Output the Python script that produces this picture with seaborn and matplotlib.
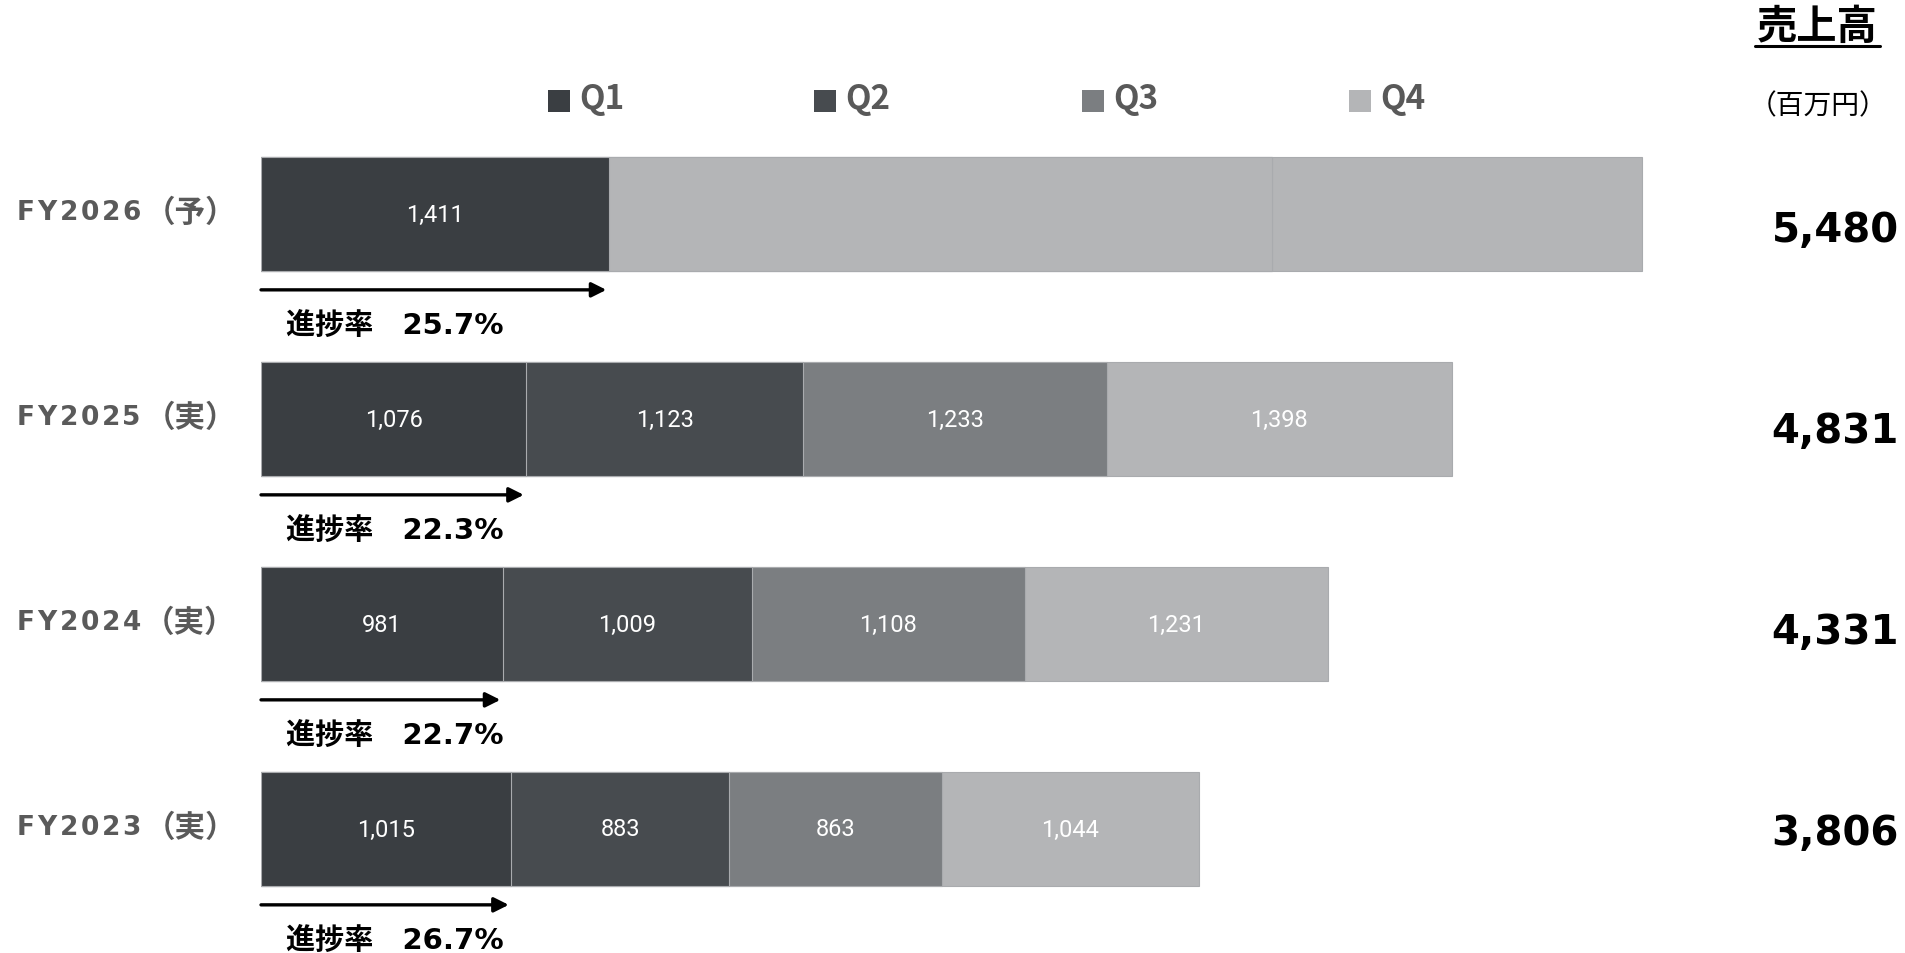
import matplotlib
matplotlib.use("Agg")
import matplotlib.pyplot as plt
from matplotlib.patches import Rectangle
from matplotlib.lines import Line2D
import seaborn as sns
import pandas as pd
import numpy as np

# ---------------- data ----------------
years = ["FY2026（予）", "FY2025（実）", "FY2024（実）", "FY2023（実）"]
# FY2026: Q1 actual, remaining forecast drawn as light segments
q1 = [1411, 1076, 981, 1015]
q2 = [2690, 1123, 1009, 883]
q3 = [0, 1233, 1108, 863]
q4 = [1501, 1398, 1231, 1044]
show_labels = [[True, False, False, False],
               [True, True, True, True],
               [True, True, True, True],
               [True, True, True, True]]
totals = ["5,480", "4,831", "4,331", "3,806"]
progress = ["25.7%", "22.3%", "22.7%", "26.7%"]
legend_labels = ["Q1", "Q2", "Q3", "Q4"]

c_q1, c_q2, c_q3, c_q4 = "#3a3e42", "#474b4f", "#7b7e81", "#b4b5b7"
layer_colors = [
    [c_q1, c_q1, c_q1, c_q1],
    [c_q4, c_q2, c_q2, c_q2],
    [c_q4, c_q3, c_q3, c_q3],
    [c_q4, c_q4, c_q4, c_q4],
]

sns.set_theme(style="white")
plt.rcParams["font.family"] = ["DejaVu Sans", "Noto Sans CJK JP"]

W, H = 1906, 954
fig = plt.figure(figsize=(W / 100, H / 100), dpi=100)
fig.patch.set_facecolor("white")

px_per_unit = 0.2465
ax_left_px, ax_right_px = 261, 1700
ax_top_px, ax_bot_px = 112.5, 932.5
ax = fig.add_axes([ax_left_px / W, 1 - ax_bot_px / H,
                   (ax_right_px - ax_left_px) / W, (ax_bot_px - ax_top_px) / H])

segs = np.array([q1, q2, q3, q4], dtype=float)
cums = np.cumsum(segs, axis=0)

# draw cumulative layers from outermost to innermost
for k in range(3, -1, -1):
    df = pd.DataFrame({"year": years, "value": cums[k]})
    sns.barplot(data=df, x="value", y="year", hue="year", hue_order=years,
                order=years, palette=layer_colors[k], legend=False, orient="h",
                width=0.556, ax=ax, edgecolor="#a9abae", linewidth=0.8,
                saturation=1, errorbar=None)

ax.set_xlim(0, (ax_right_px - ax_left_px) / px_per_unit)
ax.set_ylim(3.5, -0.5)
ax.set_xlabel("")
ax.set_ylabel("")
ax.set_xticks([])
ax.set_yticks([])
for s in ax.spines.values():
    s.set_visible(False)
ax.patch.set_alpha(0)

# segment value labels
for i in range(4):
    starts = np.concatenate([[0], cums[:-1, i]])
    for k in range(4):
        if show_labels[i][k] and segs[k, i] > 0:
            ax.text(starts[k] + segs[k, i] / 2, i, f"{int(segs[k, i]):,}",
                    ha="center", va="center", color="white", fontsize=17,
                    family=["Roboto", "DejaVu Sans"])

# arrows and progress texts
for i in range(4):
    ax.annotate("", xy=(q1[i] - 10, i + 0.37), xytext=(0, i + 0.37),
                arrowprops=dict(arrowstyle="-|>", color="black", lw=2.4,
                                mutation_scale=22, shrinkA=0, shrinkB=0),
                annotation_clip=False)
    ax.annotate("進捗率\u3000" + progress[i], xy=(0, i + 0.54),
                xytext=(25, 0), textcoords="offset pixels",
                ha="left", va="center", fontsize=21, fontweight="bold",
                color="black", family=["DejaVu Sans", "Noto Sans CJK JP"],
                annotation_clip=False)

# year labels (left) with letter spacing on the latin part
renderer = fig.canvas.get_renderer()
trans_left = matplotlib.transforms.blended_transform_factory(fig.transFigure, ax.transData)
spacing_px = 2.6
for i in range(4):
    latin, rest = years[i][:6], years[i][6:]
    xoff = 0.0
    for ch in list(latin):
        t = ax.annotate(ch, xy=(17 / W, i - 0.012), xycoords=trans_left,
                        xytext=(xoff, 0), textcoords="offset pixels",
                        ha="left", va="center", fontsize=19, fontweight="bold",
                        color="#5a5a5a", family=["DejaVu Sans"],
                        annotation_clip=False)
        xoff += t.get_window_extent(renderer).width + spacing_px
    ax.annotate(rest, xy=(17 / W, i - 0.012), xycoords=trans_left,
                xytext=(xoff + 1, 0), textcoords="offset pixels",
                ha="left", va="center", fontsize=22, fontweight="bold",
                color="#5a5a5a", family=["Noto Sans CJK JP"],
                annotation_clip=False)

# totals (right)
for i in range(4):
    fig.text(1899 / W, 1 - (231 + 201 * i) / H, totals[i], ha="right",
             va="center", fontsize=29, fontweight="bold", color="black",
             family=["DejaVu Sans"])

# header
fig.text(1817 / W, 1 - 27 / H, "売上高", ha="center", va="center", fontsize=29,
         fontweight="bold", color="black", family=["Noto Sans CJK JP"])
fig.add_artist(Line2D([1755 / W, 1880 / W], [1 - 47 / H, 1 - 47 / H],
                      color="black", lw=2.2, transform=fig.transFigure))
fig.text(1818 / W, 1 - 106 / H, "（百万円）", ha="center", va="center", fontsize=20,
         color="black", family=["Noto Sans CJK JP"])

# legend
sq_x = [548, 814, 1082, 1349]
leg_colors = [c_q1, c_q2, c_q3, c_q4]
for x0, lab, col in zip(sq_x, legend_labels, leg_colors):
    fig.add_artist(Rectangle((x0 / W, 1 - 113 / H), 22 / W, 22 / H,
                             facecolor=col, edgecolor="none",
                             transform=fig.transFigure))
    fig.text((x0 + 31) / W, 1 - 99 / H, lab, ha="left", va="center", fontsize=24,
             fontweight="bold", color="#595959", family=["Noto Sans CJK JP"])

fig.savefig("out.png", dpi=100, facecolor="white")
